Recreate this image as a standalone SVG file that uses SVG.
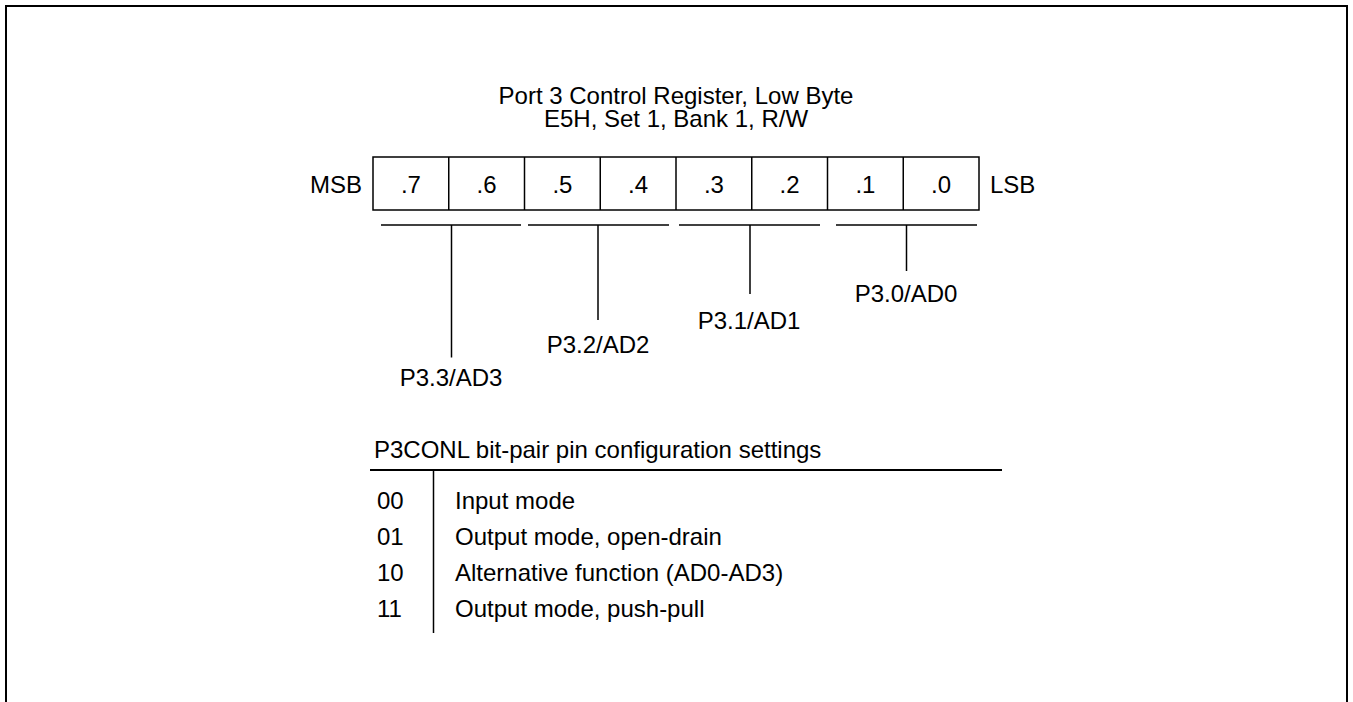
<svg xmlns="http://www.w3.org/2000/svg" width="1353" height="702" viewBox="0 0 1353 702">
<style>
text { font-family: "Liberation Sans", Arial, sans-serif; font-size: 24px; fill: #000; }
.c { text-anchor: middle; }
.e { text-anchor: end; }
.ln { stroke: #000; stroke-width: 1.5; fill: none; }
.cell { stroke: #000; stroke-width: 1.5; fill: #fff; }
</style>
<rect x="0" y="0" width="1353" height="702" fill="#fff"/>
<rect id="frame" x="6" y="6" width="1341" height="730" fill="none" stroke="#000" stroke-width="2"/>

<g id="title">
  <text class="c" x="676" y="104">Port 3 Control Register, Low Byte</text>
  <text class="c" x="676" y="127">E5H, Set 1, Bank 1, R/W</text>
</g>

<g id="register">
  <text class="e" x="362" y="193">MSB</text>
  <rect class="cell" x="373" y="157" width="606" height="53"/>
  <line class="ln" x1="448.75" y1="157" x2="448.75" y2="210"/>
  <line class="ln" x1="524.5" y1="157" x2="524.5" y2="210"/>
  <line class="ln" x1="600.25" y1="157" x2="600.25" y2="210"/>
  <line class="ln" x1="676" y1="157" x2="676" y2="210"/>
  <line class="ln" x1="751.75" y1="157" x2="751.75" y2="210"/>
  <line class="ln" x1="827.5" y1="157" x2="827.5" y2="210"/>
  <line class="ln" x1="903.25" y1="157" x2="903.25" y2="210"/>
  <text class="c" x="410.9" y="193">.7</text>
  <text class="c" x="486.6" y="193">.6</text>
  <text class="c" x="562.4" y="193">.5</text>
  <text class="c" x="638.1" y="193">.4</text>
  <text class="c" x="713.9" y="193">.3</text>
  <text class="c" x="789.6" y="193">.2</text>
  <text class="c" x="865.4" y="193">.1</text>
  <text class="c" x="941.1" y="193">.0</text>
  <text x="990" y="193">LSB</text>
</g>

<g id="connectors">
  <line class="ln" x1="381" y1="225" x2="521" y2="225"/>
  <line class="ln" x1="451.5" y1="225" x2="451.5" y2="357.5"/>
  <line class="ln" x1="528" y1="225" x2="669" y2="225"/>
  <line class="ln" x1="598" y1="225" x2="598" y2="320"/>
  <line class="ln" x1="679" y1="225" x2="820" y2="225"/>
  <line class="ln" x1="750" y1="225" x2="750" y2="294"/>
  <line class="ln" x1="836" y1="225" x2="977" y2="225"/>
  <line class="ln" x1="906.5" y1="225" x2="906.5" y2="271"/>
</g>

<g id="label-p33"><text class="c" x="451" y="386">P3.3/AD3</text></g>
<g id="label-p32"><text class="c" x="598" y="353">P3.2/AD2</text></g>
<g id="label-p31"><text class="c" x="749" y="329">P3.1/AD1</text></g>
<g id="label-p30"><text class="c" x="906" y="302">P3.0/AD0</text></g>

<g id="settings-table">
  <text x="374" y="458">P3CONL bit-pair pin configuration settings</text>
  <line x1="370" y1="470" x2="1002" y2="470" stroke="#000" stroke-width="2"/>
  <line class="ln" x1="433.5" y1="470" x2="433.5" y2="633"/>
  <text x="377" y="509">00</text>
  <text x="455" y="509">Input mode</text>
  <text x="377" y="545">01</text>
  <text x="455" y="545">Output mode, open-drain</text>
  <text x="377" y="581">10</text>
  <text x="455" y="581">Alternative function (AD0-AD3)</text>
  <text x="377" y="617">11</text>
  <text x="455" y="617">Output mode, push-pull</text>
</g>
</svg>
